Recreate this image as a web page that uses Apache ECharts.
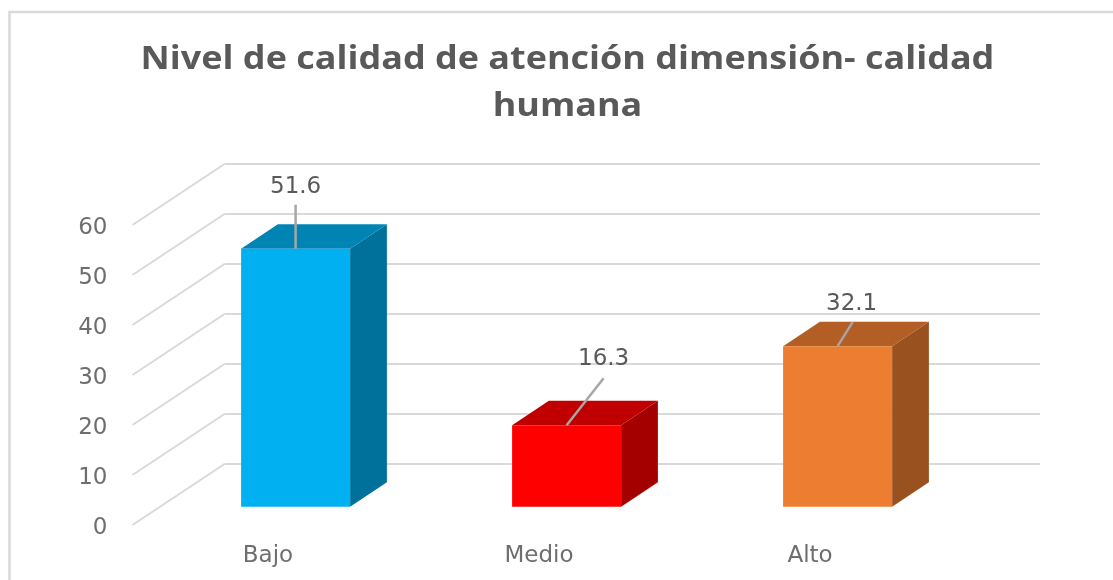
<!DOCTYPE html>
<html>
<head>
<meta charset="utf-8">
<title>Nivel de calidad</title>
<script src="https://cdn.jsdelivr.net/npm/echarts@6/dist/echarts.min.js"></script>
<style>
  html, body { margin: 0; padding: 0; background: #fff; }
  #chart { width: 1113px; height: 580px; }
</style>
</head>
<body>
<div id="chart"></div>
<script>
var categories = ["Bajo", "Medio", "Alto"];
var values = [51.6, 16.3, 32.1];
var ticks = [0, 10, 20, 30, 40, 50, 60];
var titleText = "Nivel de calidad de atención dimensión- calidad\nhumana";

var frontColors = ["#00B0F0", "#FF0000", "#ED7D31"];
var topColors = ["#0084B4", "#C00000", "#B25E25"];
var sideColors = ["#00719B", "#A50000", "#995120"];

// leader line end and label centre, relative to the middle of the bar's top edge
var leaderEnd = [[0, -44], [37, -47], [15, -24]];
var labelPos = [[0, -62], [37, -66], [14, -42]];

// 3d look: the whole floor is shifted by this much, bars sit from 30% to 70% of it
var DEPTH_X = 92;
var DEPTH_Y = -61;
var GRID_COLOR = "#D9D9D9";
var FONT = '"DejaVu Sans"';

function renderSlant(params, api) {
  var x = params.coordSys.x;
  var y = api.coord([0, api.value(0)])[1];
  return {
    type: "line",
    shape: { x1: x, y1: y, x2: x + DEPTH_X, y2: y + DEPTH_Y },
    style: { stroke: GRID_COLOR, lineWidth: 2 }
  };
}

function renderBar(params, api) {
  var i = params.dataIndex;
  var top = api.coord([i, api.value(1)]);
  var base = api.coord([i, 0]);
  var w = 109;
  var dx = DEPTH_X * 0.4;
  var dy = DEPTH_Y * 0.4;
  var cx = top[0] + DEPTH_X * 0.3;
  var x0 = cx - w / 2;
  var x1 = cx + w / 2;
  var yTop = top[1] + DEPTH_Y * 0.3;
  var yBase = base[1] + DEPTH_Y * 0.3;
  return {
    type: "group",
    children: [
      {
        type: "polygon",
        shape: { points: [[x1, yTop], [x1 + dx, yTop + dy], [x1 + dx, yBase + dy], [x1, yBase]] },
        style: { fill: sideColors[i] }
      },
      {
        type: "polygon",
        shape: { points: [[x0, yTop], [x0 + dx, yTop + dy], [x1 + dx, yTop + dy], [x1, yTop]] },
        style: { fill: topColors[i] }
      },
      {
        type: "rect",
        shape: { x: x0, y: yTop, width: w, height: yBase - yTop },
        style: { fill: frontColors[i] }
      },
      {
        type: "line",
        shape: { x1: cx, y1: yTop, x2: cx + leaderEnd[i][0], y2: yTop + leaderEnd[i][1] },
        style: { stroke: "#A6A6A6", lineWidth: 2.5 }
      },
      {
        type: "text",
        style: {
          text: values[i].toFixed(1),
          x: cx + labelPos[i][0],
          y: yTop + labelPos[i][1],
          align: "center",
          verticalAlign: "middle",
          fill: "#595959",
          font: "23px " + FONT
        }
      }
    ]
  };
}

var chart = echarts.init(document.getElementById("chart"));
chart.setOption({
  animation: false,
  backgroundColor: "#fff",
  graphic: [
    {
      type: "rect",
      z: -1,
      shape: { x: 9.5, y: 12, width: 1300, height: 800 },
      style: { fill: "#fff", stroke: GRID_COLOR, lineWidth: 2.5 }
    },
    {
      // the original title is a little stretched sideways
      type: "text",
      x: 567.5,
      y: 36,
      scaleX: 1.09,
      style: {
        text: titleText,
        align: "center",
        font: 'bold 33px "Open Sans"',
        lineHeight: 47,
        fill: "#595959"
      }
    }
  ],
  grid: [
    { left: 132.5, width: 813, top: 225, height: 300 },
    { left: 224.5, width: 815.5, top: 164, height: 300 },
    // only carries the value labels, they sit a bit lower than the floor lines
    { left: 132.5, width: 813, top: 228, height: 300 }
  ],
  xAxis: [
    {
      gridIndex: 0,
      type: "category",
      data: categories,
      axisLine: { show: false },
      axisTick: { show: false },
      axisLabel: { margin: 20, color: "#6E6E6E", fontSize: 23, fontFamily: FONT }
    },
    { gridIndex: 1, type: "category", data: categories, show: false },
    { gridIndex: 2, type: "category", data: categories, show: false }
  ],
  yAxis: [
    { gridIndex: 0, type: "value", min: 0, max: 60, interval: 10, show: false },
    {
      gridIndex: 1,
      type: "value",
      min: 0,
      max: 60,
      interval: 10,
      axisLine: { show: false },
      axisTick: { show: false },
      axisLabel: { show: false },
      splitLine: { show: true, lineStyle: { color: GRID_COLOR, width: 2 } }
    },
    {
      gridIndex: 2,
      type: "value",
      min: 0,
      max: 60,
      interval: 10,
      axisLine: { show: false },
      axisTick: { show: false },
      splitLine: { show: false },
      axisLabel: { margin: 25, color: "#6E6E6E", fontSize: 23, fontFamily: FONT }
    }
  ],
  series: [
    {
      type: "custom",
      xAxisIndex: 0,
      yAxisIndex: 0,
      silent: true,
      clip: false,
      renderItem: renderSlant,
      data: ticks.map(function (t) { return [t]; }),
      encode: { y: 0 }
    },
    {
      type: "custom",
      xAxisIndex: 0,
      yAxisIndex: 0,
      silent: true,
      clip: false,
      z: 5,
      renderItem: renderBar,
      data: values.map(function (v, i) { return [i, v]; }),
      encode: { x: 0, y: 1 }
    }
  ]
});
</script>
</body>
</html>
